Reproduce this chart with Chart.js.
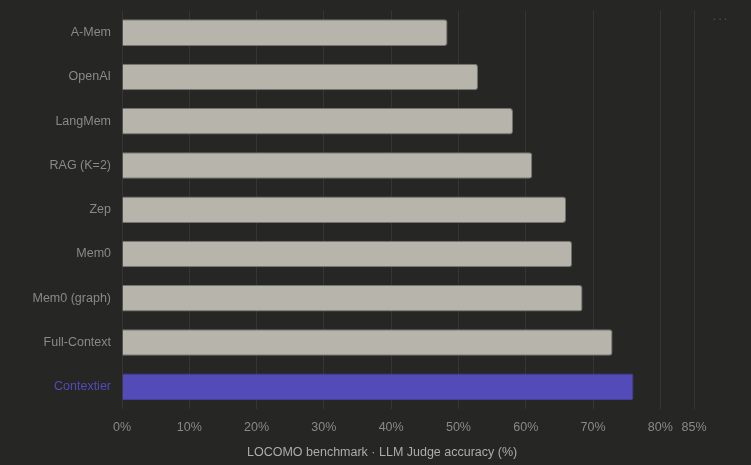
<!DOCTYPE html>
<html lang="en">
<head>
  <meta charset="UTF-8">
  <title>LOCOMO benchmark</title>
  <script src="https://cdn.jsdelivr.net/npm/chart.js"></script>
  <style>
    * { box-sizing: border-box; margin: 0; padding: 0; }
    body {
      background-color: #262624;
      width: 751px;
      height: 465px;
      overflow: hidden;
      font-family: 'Liberation Sans', Arial, sans-serif;
    }
    #chart-container {
      position: relative;
      width: 751px;
      height: 465px;
    }
    .menu {
      position: absolute;
      top: 10px;
      left: 712px;
      color: #4a4a47;
      font-size: 14px;
      letter-spacing: 1px;
    }
    .axis-title {
      position: absolute;
      left: 247px;
      top: 444px;
      color: #aeaca6;
      font-size: 12.5px;
      line-height: 16px;
      white-space: nowrap;
    }
  </style>
</head>
<body>
  <div id="chart-container">
    <canvas id="benchChart"></canvas>
    <div class="menu">···</div>
    <div class="axis-title">LOCOMO benchmark · LLM Judge accuracy (%)</div>
  </div>

  <script>
    // LLM Judge accuracy on LOCOMO (%)
    const systems = ['A-Mem', 'OpenAI', 'LangMem', 'RAG (K=2)', 'Zep', 'Mem0', 'Mem0 (graph)', 'Full-Context', 'Contextier'];
    const accuracy = [48.38, 52.90, 58.10, 60.97, 65.99, 66.88, 68.44, 72.90, 76.0];
    const highlight = 'Contextier';

    const grey = '#b7b4ac';
    const purple = '#534bb8';
    const fontSpec = { family: 'Liberation Sans', size: 12.5 };

    const ctx = document.getElementById('benchChart').getContext('2d');
    new Chart(ctx, {
      type: 'bar',
      data: {
        labels: systems,
        datasets: [{
          data: accuracy,
          backgroundColor: systems.map(s => s === highlight ? purple : grey),
          borderColor: systems.map(s => s === highlight ? '#4a43a3' : '#75736d'),
          borderWidth: 1,
          borderRadius: 3,
          barPercentage: 0.6,
          categoryPercentage: 1
        }]
      },
      options: {
        indexAxis: 'y',
        responsive: true,
        maintainAspectRatio: false,
        animation: false,
        layout: { padding: { top: -2, right: 57, bottom: 19, left: 0 } },
        plugins: {
          legend: { display: false },
          tooltip: { enabled: false }
        },
        scales: {
          x: {
            min: 0,
            max: 85,
            ticks: {
              stepSize: 10,
              color: '#8a8985',
              font: fontSpec,
              callback: v => v + '%',
              padding: 11
            },
            grid: { color: '#353533', drawTicks: false },
            border: { display: false }
          },
          y: {
            ticks: {
              color: ctx => systems[ctx.index] === highlight ? purple : '#8a8985',
              font: fontSpec,
              padding: 3
            },
            grid: { display: false },
            border: { display: false },
            afterFit: scale => { scale.width = 122; }
          }
        }
      }
    });
  </script>
</body>
</html>
